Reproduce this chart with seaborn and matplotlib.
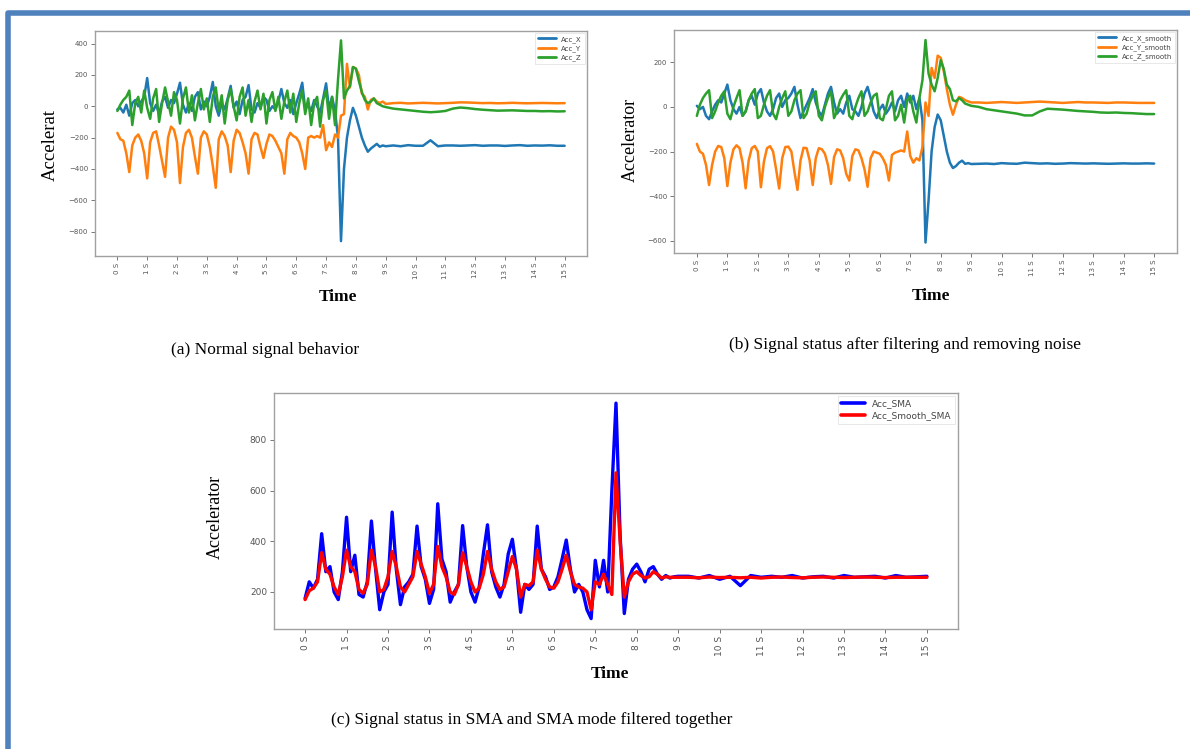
import numpy as np
import pandas as pd
import matplotlib
matplotlib.use("Agg")
import matplotlib.pyplot as plt
from matplotlib.lines import Line2D
import seaborn as sns

# ── sample times (s): dense part up to 9 s, then the settled tail ─────
t_head = np.round(np.arange(0, 9.01, 0.1), 1)      # 91 samples
t_tail = np.round(np.arange(9.25, 15.01, 0.25), 2)  # 24 samples
time = np.concatenate([t_head, t_tail])

# ── (a) raw accelerometer ─────────────────────────────────────────────
acc_x = [-20, -10, -40, 10, -60, 20, 40, 0, 30, 60,
         180, 20, -30, 10, -50, 30, 60, -10, 40, 20,
         80, 150, 10, -40, 20, -30, 60, 90, -20, 30,
         0, 60, 155, 0, -60, 20, -20, 50, 130, -10,
         30, -50, 40, 60, 135, -20, -40, 20, -10, 60,
         40, -30, 0, -20, 30, 110, 20, -10, 40, -50,
         20, 80, 150, -20, 10, -30, 40, 0, -40, 50,
         146, -20, 60, -30, -200, -860, -400, -200, -90, -10,
         -60, -130, -200, -250, -290, -270, -255, -240, -258, -250,
         -255,
         -250, -255, -248, -252, -252, -217, -255, -250, -250, -252, -250, -248,
         -252, -250, -250, -253, -250, -248, -252, -250, -251, -249, -252, -252]
acc_y = [-170, -210, -220, -300, -420, -250, -200, -180, -220, -300,
         -460, -230, -170, -160, -250, -350, -450, -200, -130, -150,
         -230, -490, -260, -170, -150, -200, -320, -430, -200, -160,
         -180, -260, -380, -520, -210, -160, -190, -250, -420, -220,
         -150, -170, -230, -300, -430, -210, -170, -180, -260, -330,
         -240, -180, -190, -220, -260, -300, -430, -210, -170, -190,
         -200, -230, -300, -400, -200, -190, -200, -190, -200, -120,
         -280, -230, -260, -180, -200, -60, -50, 270, 120, 250,
         240, 200, 80, 60, -20, 40, 50, 30, 20, 30,
         15,
         20, 22, 18, 20, 22, 20, 18, 20, 22, 25, 24, 22,
         20, 21, 19, 20, 22, 20, 19, 20, 21, 20, 19, 20]
acc_z = [-30, 10, 40, 60, 100, -120, 20, 60, -40, 100,
         -10, -80, 50, 110, -100, 20, 120, 30, -60, 90,
         40, -110, 50, 120, -40, 70, -90, 20, 110, -20,
         50, -100, 60, 120, -30, 70, -110, 40, 110, 0,
         -90, 60, 120, -60, 40, -100, 30, 100, -20, 80,
         -110, 40, 90, -30, 60, -80, 30, 100, -40, 80,
         -100, 20, 100, -50, 50, -120, 20, 60, -130, 40,
         100, -80, 60, -120, 170, 420, 50, 100, 130, 250,
         240, 160, 90, 40, 20, 30, 50, 20, 10, 0,
         -5,
         -15, -20, -25, -30, -35, -38, -35, -30, -15, -8, -12, -18,
         -22, -25, -28, -27, -26, -28, -30, -30, -32, -31, -33, -32]

# ── (b) after smoothing ───────────────────────────────────────────────
acc_x_smooth = [5, -10, 0, -40, -55, -20, 10, 30, 20, 60,
                100, 30, -10, -30, 0, -40, -20, 30, 50, 10,
                60, 80, 20, -20, -40, -10, 40, 60, 0, 30,
                40, 60, 90, 10, -50, -20, 10, 40, 80, 20,
                -20, -40, 10, 60, 90, 20, -30, -10, -30, 20,
                50, -10, -20, -40, 0, 60, 90, 40, -20, -50,
                -10, 10, -30, -10, 20, -20, 30, 50, 0, 60,
                20, 50, -10, 40, -60, -608, -420, -200, -90, -34,
                -60, -130, -200, -250, -274, -265, -250, -241, -255, -252,
                -256,
                -255, -254, -256, -252, -254, -255, -250, -252, -254, -253, -255, -254,
                -252, -253, -254, -253, -254, -255, -254, -253, -254, -254, -253, -254]
acc_y_smooth = [-166, -200, -210, -260, -350, -260, -200, -175, -180, -230,
                -355, -250, -190, -172, -185, -250, -365, -240, -185, -175,
                -200, -360, -245, -185, -176, -200, -280, -366, -230, -180,
                -178, -200, -290, -372, -240, -183, -185, -240, -350, -230,
                -185, -190, -210, -260, -345, -225, -190, -195, -230, -300,
                -330, -220, -190, -195, -230, -280, -358, -230, -200, -205,
                -210, -230, -260, -330, -215, -205, -200, -195, -200, -110,
                -220, -250, -230, -240, -180, 20, -40, 175, 130, 230,
                220, 160, 80, 10, -35, 10, 45, 40, 30, 25,
                20,
                20, 18, 20, 22, 20, 18, 20, 22, 24, 22, 20, 18,
                20, 22, 20, 20, 19, 18, 20, 20, 19, 18, 18, 18]
acc_z_smooth = [-40, 10, 40, 60, 75, -50, -20, 20, 50, 70,
                -30, -55, 0, 40, 75, -40, -20, 30, 60, 80,
                -50, -40, 10, 50, 75, -30, -55, 0, 40, 70,
                -40, -20, 30, 60, 75, -50, -30, 20, 50, 70,
                -40, -60, 0, 40, 70, -50, -20, 30, 55, 75,
                -40, -55, 0, 40, 70, -40, -20, 20, 50, 60,
                -50, -60, -10, 50, 70, -60, -40, 10, -70, 30,
                50, -20, -70, 40, 120, 300, 150, 100, 70, 130,
                210, 170, 100, 80, 30, 25, 40, 30, 15, 10,
                5,
                0, -10, -15, -20, -25, -30, -38, -38, -20, -8, -10, -12,
                -15, -18, -20, -22, -25, -26, -25, -27, -28, -30, -32, -32]

# ── (c) signal magnitude area ─────────────────────────────────────────
acc_sma = [175, 240, 215, 250, 430, 280, 300, 200, 170, 280,
           495, 280, 345, 190, 180, 240, 480, 290, 130, 200,
           230, 515, 290, 150, 220, 240, 270, 460, 300, 250,
           155, 210, 548, 330, 280, 160, 200, 230, 462, 300,
           200, 160, 220, 350, 465, 280, 220, 180, 230, 350,
           408, 290, 120, 230, 210, 230, 460, 290, 260, 210,
           220, 260, 330, 405, 290, 200, 230, 200, 130, 95,
           325, 220, 325, 200, 600, 945, 420, 115, 250, 290,
           310, 280, 240, 290, 300, 270, 250, 265, 255, 260,
           262,
           262, 255, 265, 250, 262, 225, 265, 258, 262, 258, 265, 255,
           260, 262, 255, 265, 258, 260, 262, 255, 265, 258, 260, 262]
acc_smooth_sma = [170, 205, 215, 240, 355, 290, 270, 220, 190, 260,
                  365, 300, 280, 210, 195, 230, 365, 300, 200, 210,
                  260, 360, 300, 220, 200, 230, 260, 360, 310, 260,
                  195, 230, 380, 300, 260, 200, 190, 230, 355, 300,
                  240, 200, 215, 270, 360, 290, 240, 210, 220, 280,
                  340, 290, 180, 230, 225, 240, 365, 290, 250, 220,
                  215, 240, 290, 345, 280, 230, 220, 215, 200, 130,
                  240, 230, 270, 230, 190, 670, 400, 180, 240, 270,
                  280, 265, 255, 260, 280, 270, 255, 260, 258, 258,
                  258,
                  258, 256, 259, 257, 258, 256, 258, 255, 258, 259, 257, 256,
                  258, 259, 258, 257, 258, 259, 258, 257, 258, 258, 258, 258]

sec_ticks = list(range(16))
sec_labels = [f"{s} S" for s in sec_ticks]

sns.set_theme(style="ticks")
plt.rcParams["axes.edgecolor"] = "#a0a0a0"
plt.rcParams["axes.linewidth"] = 1.0
plt.rcParams["text.color"] = "black"
serif = ["Liberation Serif", "DejaVu Serif"]

fig = plt.figure(figsize=(11.9, 7.49), dpi=100)
W, H = 1190, 749


def box(x0, y0, x1, y1):
    return [x0 / W, 1 - y1 / H, (x1 - x0) / W, (y1 - y0) / H]


def panel(rect, series, colors, ylim, yticks, lw, lfs, tfs):
    ax = fig.add_axes(rect)
    df = pd.DataFrame({"time": time, **series}).melt(
        id_vars="time", var_name="series", value_name="value")
    sns.lineplot(data=df, x="time", y="value", hue="series",
                 hue_order=list(series), palette=colors,
                 linewidth=lw, estimator=None, ax=ax)
    ax.set_xlim(-0.75, 15.75)
    ax.set_ylim(*ylim)
    ax.set_xticks(sec_ticks)
    ax.set_xticklabels(sec_labels, rotation=90)
    ax.set_yticks(yticks)
    ax.set_xlabel("")
    ax.set_ylabel("")
    ax.tick_params(labelsize=tfs, labelcolor="#555555", color="#777777",
                   length=3, width=0.7, pad=2)
    h, l = ax.get_legend_handles_labels()
    leg = ax.legend(h, l, loc="upper right", fontsize=lfs, frameon=True,
                    handlelength=2.6, borderaxespad=0.3, borderpad=0.4,
                    labelspacing=0.35, fancybox=False)
    leg.get_frame().set_edgecolor("#dddddd")
    leg.get_frame().set_linewidth(0.6)
    for ln in leg.get_lines():
        ln.set_linewidth(lw + 0.2)
    for txt in leg.get_texts():
        txt.set_color("#444444")
    return ax


tab = ["#1f77b4", "#ff7f0e", "#2ca02c"]
panel(box(95, 31, 587, 256),
      {"Acc_X": acc_x, "Acc_Y": acc_y, "Acc_Z": acc_z},
      tab, (-955, 480), [400, 200, 0, -200, -400, -600, -800], 1.8, 5, 5)
panel(box(674, 30, 1177, 253),
      {"Acc_X_smooth": acc_x_smooth, "Acc_Y_smooth": acc_y_smooth,
       "Acc_Z_smooth": acc_z_smooth},
      tab, (-655, 345), [200, 0, -200, -400, -600], 1.8, 5, 5)
panel(box(274, 393, 958, 629),
      {"Acc_SMA": acc_sma, "Acc_Smooth_SMA": acc_smooth_sma},
      ["#0000ff", "#ff0000"], (54, 985), [200, 400, 600, 800], 2.4, 6.5, 6.5)

# axis titles and captions
def ftext(x, y, s, **kw):
    fig.text(x / W, 1 - y / H, s, ha="center", va="center", family=serif,
             color="black", **kw)

ftext(50, 145, "Accelerat", rotation=90, fontsize=13.5)
ftext(630, 140, "Accelerator", rotation=90, fontsize=13)
ftext(215, 517, "Accelerator", rotation=90, fontsize=13)
ftext(338, 297, "Time", fontsize=12.5, fontweight="bold")
ftext(931, 296, "Time", fontsize=12.5, fontweight="bold")
ftext(610, 674, "Time", fontsize=12.5, fontweight="bold")
ftext(265, 350, "(a) Normal signal behavior", fontsize=12.5)
ftext(905, 345, "(b) Signal status after filtering and removing noise", fontsize=12.5)
ftext(532, 720, "(c) Signal status in SMA and SMA mode filtered together", fontsize=12.5)

# blue frame (left and top edges)
fig.add_artist(Line2D([8 / W, 8 / W, 1.0], [0, 1 - 12.5 / H, 1 - 12.5 / H],
                      transform=fig.transFigure, color="#4f81bd", lw=4,
                      solid_joinstyle="round"))

fig.savefig("out.png", dpi=100)
